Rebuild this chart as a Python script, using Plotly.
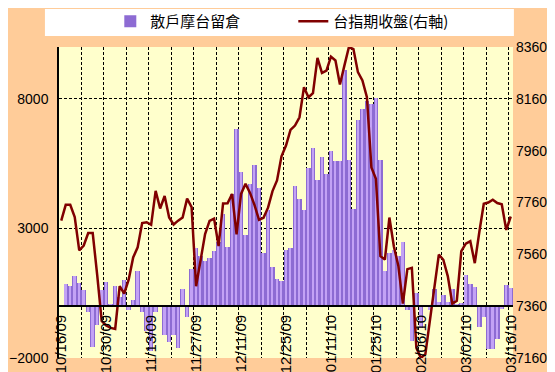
import plotly.graph_objects as go

dates = [
    "10/16/09", "10/19/09", "10/20/09", "10/21/09", "10/22/09", "10/23/09",
    "10/26/09", "10/27/09", "10/28/09", "10/29/09", "10/30/09",
    "11/02/09", "11/03/09", "11/04/09", "11/05/09", "11/06/09",
    "11/09/09", "11/10/09", "11/11/09", "11/12/09", "11/13/09",
    "11/16/09", "11/17/09", "11/18/09", "11/19/09", "11/20/09",
    "11/23/09", "11/24/09", "11/25/09", "11/26/09", "11/27/09",
    "11/30/09", "12/01/09", "12/02/09", "12/03/09", "12/04/09",
    "12/07/09", "12/08/09", "12/09/09", "12/10/09", "12/11/09",
    "12/14/09", "12/15/09", "12/16/09", "12/17/09", "12/18/09",
    "12/21/09", "12/22/09", "12/23/09", "12/24/09", "12/25/09",
    "12/28/09", "12/29/09", "12/30/09", "12/31/09",
    "01/04/10", "01/05/10", "01/06/10", "01/07/10", "01/08/10",
    "01/11/10", "01/12/10", "01/13/10", "01/14/10", "01/15/10",
    "01/18/10", "01/19/10", "01/20/10", "01/21/10", "01/22/10",
    "01/25/10", "01/26/10", "01/27/10", "01/28/10", "01/29/10",
    "02/01/10", "02/02/10", "02/03/10", "02/04/10", "02/05/10",
    "02/06/10", "02/08/10", "02/09/10", "02/10/10",
    "02/22/10", "02/23/10", "02/24/10", "02/25/10", "02/26/10",
    "03/01/10", "03/02/10", "03/03/10", "03/04/10", "03/05/10",
    "03/08/10", "03/09/10", "03/10/10", "03/11/10", "03/12/10",
    "03/15/10", "03/16/10",
]

retail_oi = [
    None, 860, 780, 1160, 900, 630, -240, -1560, -710, 630,
    930, 90, 770, 370, 1010, -140, 240, 1350, -240, -950,
    -1720, -230, 50, -1100, -1400, -1110, -1600, 660, -430, 1440,
    2250, 1930, 1740, 1855, 2130, 2490, 3540, 2290, 4330, 6850,
    5190, 2750, 4720, 5450, 4570, 2060, 3720, 1500, 1050, 990,
    2180, 2255, 4630, 4140, 3720, 5340, 6120, 4850, 5760, 5115,
    5990, 5590, 5590, 9130, 5650, 3760, 7170, 7625, 7900, 7790,
    8015, 5650, 1360, 2055, 2178, 1940, 2474, -135, -1330, 510,
    -830, 50, -167, 665, 170, 438, 180, 665, 85, 120,
    1211, 855, 734, -786, -400, -1670, -1670, -1250, -90, 825,
    700,
]

taiex_fut = [
    7690, 7751, 7751, 7704, 7575, 7594, 7642, 7642, 7480, 7303,
    7285, 7276, 7272, 7437, 7408, 7462, 7548, 7587, 7681, 7684,
    7674, 7805, 7737, 7785, 7702, 7675, 7690, 7702, 7775, 7742,
    7437, 7545, 7638, 7689, 7698, 7592, 7756, 7757, 7793, 7637,
    7793, 7832, 7797, 7750, 7693, 7701, 7740, 7804, 7845, 7938,
    7980, 8040, 8057, 8089, 8205, 8166, 8182, 8318, 8260, 8269,
    8323, 8308, 8215, 8289, 8360, 8352, 8263, 8231, 8166, 7895,
    7852, 7553, 7540, 7702, 7590, 7515, 7370, 7503, 7508, 7200,
    7160, 7175, 7310, 7440, 7559, 7539, 7475, 7370, 7381, 7572,
    7601, 7611, 7526, 7645, 7755, 7760, 7771, 7758, 7753, 7654,
    7706,
]

left_ticks = [-2000, 3000, 8000]
right_ticks = [7160, 7360, 7560, 7760, 7960, 8160, 8360]
grid_ticks = dates[::5]
tick_text = [d if i % 10 == 0 else "" for i, d in enumerate(dates) if i % 5 == 0]

num_font = dict(family="Liberation Sans, Arial", size=14, color="black")

fig = go.Figure()
# bar body (darker edges)
fig.add_trace(go.Bar(
    x=dates, y=retail_oi, name="散戶摩台留倉",
    marker=dict(color="#8D6BD3", line=dict(width=0)),
    width=1.0, yaxis="y",
))
# lighter centre highlight of the same bars
fig.add_trace(go.Bar(
    x=dates, y=retail_oi, name="散戶摩台留倉", showlegend=False,
    marker=dict(color="#C3A2F5", line=dict(width=0)),
    width=0.4, yaxis="y", hoverinfo="skip",
))
fig.add_trace(go.Scatter(
    x=dates, y=taiex_fut, name="台指期收盤(右軸)", mode="lines",
    line=dict(color="#800000", width=2.5),
    yaxis="y2",
))

fig.update_layout(
    width=555, height=372,
    margin=dict(l=51, r=50, t=39, b=22, autoexpand=False),
    paper_bgcolor="#FFCC99",
    plot_bgcolor="#FFFFCC",
    barmode="overlay",
    bargap=0,
    showlegend=True,
    legend=dict(
        orientation="h", x=0.113, xanchor="left", y=1.135, yanchor="top",
        bgcolor="rgba(0,0,0,0)", borderwidth=0,
        font=dict(family="Noto Sans CJK TC", size=15, color="black"),
        entrywidth=138, entrywidthmode="pixels",
    ),
    shapes=[dict(
        type="rect", xref="paper", yref="paper",
        x0=-0.031, x1=1.002, y0=1.035, y1=1.122,
        fillcolor="white", line=dict(width=0), layer="below",
    )],
    xaxis=dict(
        type="category",
        anchor="free", position=(0 - left_ticks[0]) / 12000,
        tickmode="array", tickvals=grid_ticks, ticktext=tick_text,
        tickson="boundaries", ticks="",
        tickangle=-90,
        tickfont=dict(family="Liberation Sans, Arial", size=15, color="black"),
        ticklabelstandoff=2,
        showgrid=True, gridcolor="black", gridwidth=1, griddash="3px,2px",
        showline=True, linecolor="black", linewidth=1.5,
        range=[-0.5, len(dates) - 0.5],
        automargin=False,
    ),
    yaxis=dict(
        range=[-2000, 10000], tickmode="array", tickvals=left_ticks,
        showgrid=True, gridcolor="black", gridwidth=1, griddash="3px,2px",
        zeroline=False, showline=True, linecolor="black", linewidth=1.5,
        ticks="", tickfont=num_font, ticklabelstandoff=6, automargin=False,
    ),
    yaxis2=dict(
        range=[7160, 8360], tickmode="array", tickvals=right_ticks,
        overlaying="y", side="right", anchor="x",
        showgrid=False, zeroline=False, showline=False,
        ticks="", tickfont=num_font, ticklabelstandoff=2, automargin=False,
    ),
)

fig.write_html("out.html")
